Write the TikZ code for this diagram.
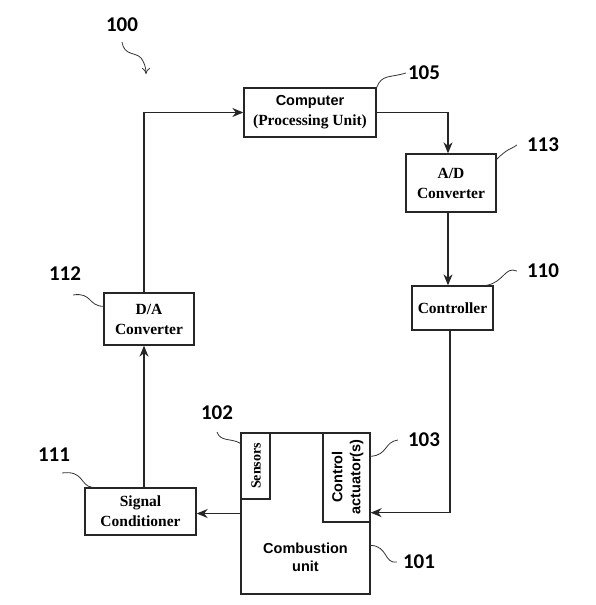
\documentclass[tikz,border=0pt]{standalone}
\usepackage{fontspec}
\setmainfont{Liberation Serif}
\setsansfont{Liberation Sans}
\newfontfamily\numfont{Carlito}
\usetikzlibrary{arrows.meta}
\tikzset{
  box/.style={draw=black!85, line width=1.3pt, inner sep=0pt, align=center,
    font=\fontsize{15.5}{20}\selectfont\bfseries},
  sbox/.style={box, font=\fontsize{14.5}{18}\selectfont\sffamily\bfseries},
  conn/.style={draw=black!85, line width=1.3pt},
  arr/.style={conn, -{Stealth[length=11pt,width=9pt,inset=3.5pt]}},
  lead/.style={draw=black!80, line width=0.8pt},
  num/.style={font=\fontsize{21}{21}\selectfont\numfont\bfseries, inner sep=0pt}
}
\begin{document}
\begin{tikzpicture}[x=1pt,y=-1pt]
\useasboundingbox (0,0) rectangle (596,605);
% boxes
\node[box, minimum width=132pt, minimum height=49pt] (comp) at (310,112.5)
  {{\sffamily\fontsize{14.5}{18}\selectfont Computer}\\(Processing Unit)};
\node[box, minimum width=90pt, minimum height=58pt] (ad) at (451,183) {A/D\\Converter};
\node[box, minimum width=81pt, minimum height=44pt] (ctrl) at (452.5,308) {Controller};
\node[box, minimum width=90pt, minimum height=52pt] (da) at (149,319) {D/A\\Converter};
\node[box, minimum width=111pt, minimum height=47pt] (sig) at (140.5,511.5) {Signal\\Conditioner};
\node[sbox, minimum width=129pt, minimum height=161pt] (comb) at (305.5,513.5) {};
\node[sbox, draw=none] (combtext) at (305.5,557) {Combustion\\unit};
\node[box, minimum width=29pt, minimum height=66pt] (sens) at (255.5,466) {};
\node[box, draw=none, rotate=90, font=\fontsize{14}{16}\selectfont\bfseries] (senstext) at (256,466) {Sensors};
\node[sbox, minimum width=47pt, minimum height=89pt] (act) at (346.5,477.5) {};
\node[sbox, draw=none, rotate=90] (acttext) at (347.5,477) {Control\\actuator(s)};
% connectors
\draw[arr] (comp.east) -| ([xshift=-3pt]ad.north);
\draw[arr] ([xshift=-3pt]ad.south) -- ([xshift=-3pt]ad.south |- ctrl.north);
\draw[arr] ([xshift=-2.5pt]ctrl.south) |- ([yshift=10pt]act.south east);
\draw[arr] (comb.west) -- (sig.east |- comb.west);
\draw[arr] ([xshift=3.5pt]sig.north) -- ([xshift=-5pt]da.south);
\draw[arr] ([xshift=-5pt]da.north) |- (comp.west);
% reference numerals
\node[num] (n100) at (122,25) {100};
\coordinate (t100) at (146,74);
\draw[lead, -{To[length=6pt,width=8pt]}] (122,42) .. controls (124,56) and (136,52) .. (141,58) .. controls (144,62) and (146,67) .. (t100);
\node[num] (n105) at (424,73) {105};
\draw[lead] (comp.north east) .. controls (382,74) and (390,78) .. ([xshift=-2pt]n105.west);
\node[num] (n113) at (543,145) {113};
\draw[lead] ([yshift=-6pt]ad.north east) .. controls (508,148) and (510,150) .. ([xshift=-10pt]n113.west);
\node[num] (n110) at (543,271) {110};
\draw[lead] ([xshift=-7pt]ctrl.north east) .. controls (504,282) and (505,266) .. ([xshift=-10pt]n110.west);
\node[num] (n112) at (65,274) {112};
\draw[lead] (73,295) .. controls (92,292) and (88,306) .. ([yshift=-14pt]da.north west);
\node[num] (n111) at (54,455) {111};
\draw[lead] (62,473) .. controls (84,470) and (80,486) .. ([xshift=8pt]sig.north west);
\node[num] (n102) at (217,413) {102};
\draw[lead] (217,432) .. controls (220,442) and (232,438) .. ([yshift=-11pt]sens.north west);
\node[num] (n103) at (424,440) {103};
\draw[lead] ([yshift=-24pt]act.north east) .. controls (388,455) and (384,442) .. ([xshift=-10pt]n103.west);
\node[num] (n101) at (419,562) {101};
\draw[lead] ([yshift=-113pt]comb.north east) .. controls (388,546) and (384,564) .. ([xshift=-6pt]n101.west);
\end{tikzpicture}
\end{document}
